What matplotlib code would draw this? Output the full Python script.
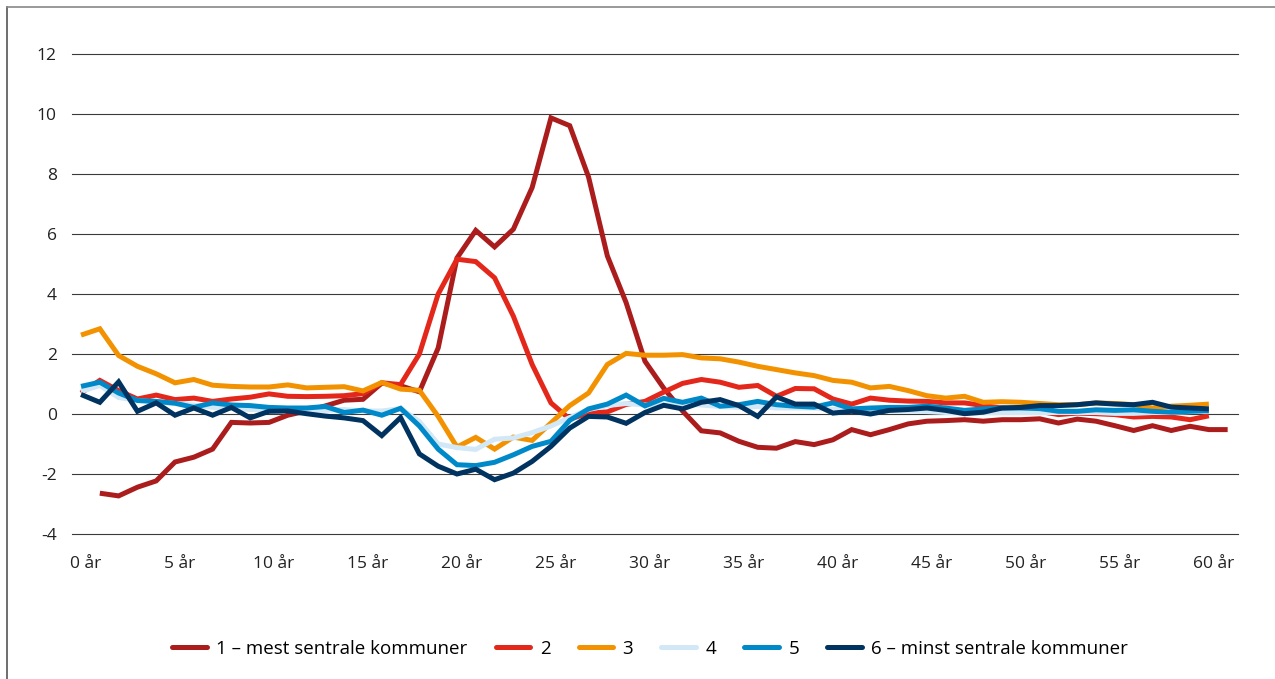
import matplotlib
matplotlib.use("Agg")
import matplotlib.pyplot as plt
import matplotlib.transforms as mtransforms
from matplotlib.lines import Line2D

plt.rcParams['font.family'] = ['Open Sans', 'DejaVu Sans']

# ---- data ----
ages_1 = list(range(1, 62))
ages = list(range(0, 61))

s1 = [-2.64, -2.73, -2.44, -2.23, -1.60, -1.44, -1.17, -0.28, -0.30, -0.28,
      -0.04, 0.10, 0.27, 0.46, 0.49, 1.03, 0.94, 0.74, 2.20, 5.20,
      6.12, 5.57, 6.16, 7.55, 9.87, 9.61, 7.90, 5.27, 3.71, 1.76,
      0.86, 0.10, -0.56, -0.63, -0.91, -1.11, -1.14, -0.92, -1.02, -0.86,
      -0.52, -0.69, -0.52, -0.33, -0.24, -0.22, -0.19, -0.24, -0.19, -0.19,
      -0.16, -0.30, -0.17, -0.24, -0.39, -0.55, -0.39, -0.55, -0.41, -0.52,
      -0.52]
s2 = [0.70, 1.12, 0.78, 0.50, 0.63, 0.48, 0.53, 0.42, 0.50, 0.56,
      0.67, 0.59, 0.58, 0.59, 0.61, 0.68, 1.04, 0.98, 2.00, 4.00,
      5.16, 5.08, 4.54, 3.26, 1.65, 0.37, -0.17, 0.03, 0.07, 0.32,
      0.42, 0.73, 1.02, 1.15, 1.06, 0.89, 0.95, 0.59, 0.85, 0.84,
      0.50, 0.33, 0.53, 0.46, 0.43, 0.42, 0.37, 0.37, 0.28, 0.20,
      0.14, 0.09, -0.02, 0.03, 0.01, -0.02, -0.10, -0.08, -0.10, -0.19,
      -0.06]
s3 = [2.63, 2.84, 1.95, 1.59, 1.34, 1.04, 1.15, 0.96, 0.92, 0.90,
      0.90, 0.97, 0.87, 0.89, 0.91, 0.77, 1.05, 0.83, 0.79, -0.08,
      -1.10, -0.78, -1.17, -0.77, -0.88, -0.30, 0.28, 0.70, 1.65, 2.02,
      1.96, 1.96, 1.98, 1.87, 1.84, 1.73, 1.59, 1.48, 1.37, 1.28,
      1.12, 1.06, 0.87, 0.92, 0.78, 0.61, 0.53, 0.59, 0.39, 0.41,
      0.39, 0.35, 0.31, 0.31, 0.37, 0.35, 0.31, 0.20, 0.26, 0.29,
      0.33]
s4 = [0.75, 0.95, 0.55, 0.45, 0.40, 0.35, 0.30, 0.22, 0.18, 0.15,
      0.15, 0.12, 0.12, 0.12, 0.15, 0.10, 0.10, 0.18, -0.25, -1.00,
      -1.12, -1.18, -0.84, -0.80, -0.62, -0.40, -0.12, 0.15, 0.28, 0.35,
      0.30, 0.30, 0.33, 0.30, 0.25, 0.22, 0.25, 0.20, 0.20, 0.20,
      0.15, 0.15, 0.12, 0.10, 0.10, 0.08, 0.05, 0.05, 0.05, 0.05,
      0.05, 0.05, 0.05, 0.05, 0.05, 0.02, 0.02, 0.05, 0.05, 0.08,
      0.10]
s5 = [0.92, 1.06, 0.70, 0.45, 0.42, 0.36, 0.22, 0.37, 0.30, 0.28,
      0.22, 0.20, 0.20, 0.25, 0.05, 0.13, -0.04, 0.19, -0.40, -1.17,
      -1.69, -1.72, -1.61, -1.36, -1.08, -0.91, -0.21, 0.17, 0.33, 0.63,
      0.27, 0.52, 0.39, 0.53, 0.26, 0.31, 0.42, 0.31, 0.26, 0.23,
      0.37, 0.17, 0.20, 0.22, 0.22, 0.26, 0.20, 0.12, 0.17, 0.20,
      0.20, 0.18, 0.09, 0.09, 0.14, 0.12, 0.14, 0.09, 0.06, 0.09,
      0.11]
s6 = [0.65, 0.39, 1.07, 0.09, 0.37, -0.04, 0.20, -0.04, 0.22, -0.13,
      0.09, 0.10, 0.01, -0.07, -0.13, -0.22, -0.72, -0.12, -1.33, -1.74,
      -2.00, -1.84, -2.19, -1.97, -1.58, -1.08, -0.47, -0.08, -0.10, -0.31,
      0.05, 0.29, 0.17, 0.39, 0.48, 0.28, -0.08, 0.57, 0.33, 0.33,
      0.03, 0.09, 0.00, 0.12, 0.15, 0.20, 0.12, 0.01, 0.06, 0.20,
      0.22, 0.28, 0.28, 0.31, 0.37, 0.33, 0.31, 0.39, 0.23, 0.20,
      0.17]

labels = ['1 – mest sentrale kommuner', '2', '3', '4', '5', '6 – minst sentrale kommuner']
colors = ['#ab1d1d', '#e3281b', '#f39200', '#d2e8f7', '#0089c9', '#00335f']
tick_pos = list(range(0, 61, 5))
tick_labels = [f'{a} år' for a in tick_pos]
y_ticks = list(range(-4, 13, 2))

# ---- figure ----
fig = plt.figure(figsize=(12.75, 6.79), dpi=100)
ax = fig.add_axes([72/1275, 1-534/679, (1238-72)/1275, (534-54)/679])

series = [(ages_1, s1), (ages, s2), (ages, s3), (ages, s4), (ages, s5), (ages, s6)]
for (x, y), c, lab in zip(series, colors, labels):
    ax.plot(x, y, color=c, lw=3.6, label=lab, solid_joinstyle='miter',
            solid_capstyle='butt')

ax.set_xlim(-0.48, 61.55)
ax.set_ylim(-4, 12)
ax.set_yticks(y_ticks)
ax.set_yticklabels([str(v) for v in y_ticks])
ax.set_xticks(tick_pos)
ax.set_xticklabels(tick_labels)
ax.yaxis.grid(True, color='#3a3a3a', lw=0.8)
for gl in ax.get_ygridlines():
    gl.set_clip_on(False)
ax.set_axisbelow(True)
for sp in ax.spines.values():
    sp.set_visible(False)
ax.tick_params(axis='both', length=0, labelsize=12.5, colors='#222222')
ax.tick_params(axis='x', pad=16)
ax.tick_params(axis='y', pad=11)

offset = mtransforms.ScaledTranslation(5/100, 0, fig.dpi_scale_trans)
for lbl in ax.get_xticklabels():
    lbl.set_transform(lbl.get_transform() + offset)

handles = [Line2D([0], [0], color=c, lw=3.6, solid_capstyle='round') for c in colors]
fig.legend(handles, labels, loc='center', bbox_to_anchor=(0.51, 1-649/679),
           ncol=6, frameon=False, fontsize=13.5, handlelength=1.85,
           handletextpad=0.5, columnspacing=1.5)

# outer frame (left and top edges)
fig.add_artist(Line2D([7/1275, 7/1275], [0, 1-7/679], transform=fig.transFigure,
                      color='#555555', lw=1.2))
fig.add_artist(Line2D([7/1275, 1], [1-7/679, 1-7/679], transform=fig.transFigure,
                      color='#888888', lw=1.2))

fig.savefig('out.png', dpi=100)
